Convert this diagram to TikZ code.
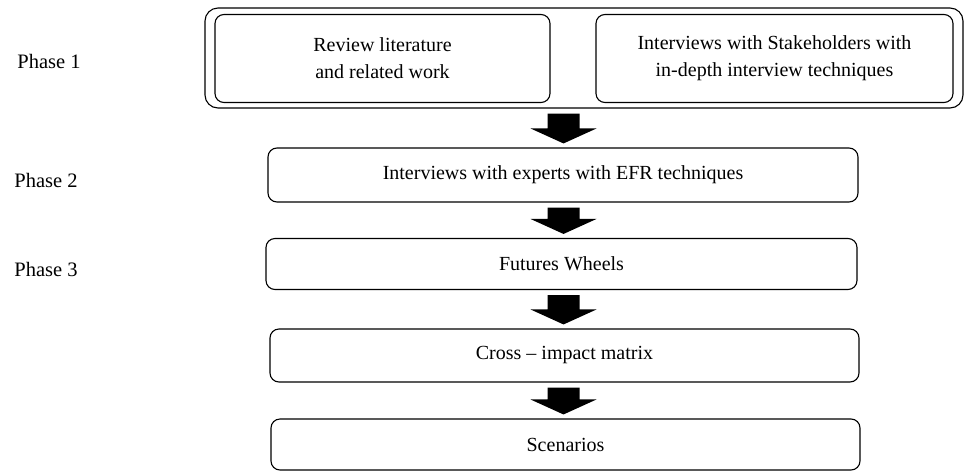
\documentclass[tikz,border=0pt]{standalone}
\usepackage{fontspec}
\setmainfont{Liberation Serif}
\usetikzlibrary{calc}
\tikzset{
  stagebox/.style={draw, line width=1.1pt, rounded corners=9pt, inner sep=0pt, font=\fontsize{20}{27}\selectfont, align=center},
  phaselabel/.style={font=\fontsize{20.5}{24}\selectfont, inner sep=0pt},
  blockfill/.style={fill=black}
}
\newcommand\blockarrow[2]{%
  \fill[blockfill] let \p1=($(#1.south -| ax)+(0,-5pt)$), \p2=($(#2.north -| ax)+(0,4pt)$) in
    (\x1-16pt,\y1) -- (\x1+16pt,\y1) -- (\x1+16pt,\y2+15pt) -- (\x1+33pt,\y2+15pt)
    -- (\x1,\y2) -- (\x1-33pt,\y2+15pt) -- (\x1-16pt,\y2+15pt) -- cycle;}
\begin{document}
\begin{tikzpicture}[x=1pt,y=-1pt]
\useasboundingbox (0,0) rectangle (964,472);
% phase 1 group
\node[stagebox, rounded corners=13pt, minimum width=758pt, minimum height=100pt] (outer) at (584,58) {};
\node[stagebox, minimum width=335pt, minimum height=88pt] (rev) at (382.5,58.5) {Review literature\\and related work};
\node[stagebox, minimum width=357pt, minimum height=88pt] (intv) at (774.5,58.5) {Interviews with Stakeholders with\\in-depth interview techniques};
\node[stagebox, minimum width=590pt, minimum height=54pt] (efr) at (563,175) {Interviews with experts with EFR techniques};
\node[stagebox, minimum width=591pt, minimum height=51pt] (fw) at (561.5,264) {Futures Wheels};
\node[stagebox, minimum width=589pt, minimum height=53pt] (cim) at (564.5,355.5) {Cross -- impact matrix};
\node[stagebox, minimum width=589pt, minimum height=51pt] (scen) at (565.5,444.5) {Scenarios};
% phase labels
\node[phaselabel] (p1) at (49,61) {Phase 1};
\node[phaselabel] (p2) at (46,180) {Phase 2};
\node[phaselabel] (p3) at (46,269) {Phase 3};
% arrows
\coordinate (ax) at (563.5,0);
\blockarrow{outer}{efr}
\blockarrow{efr}{fw}
\blockarrow{fw}{cim}
\blockarrow{cim}{scen}
\end{tikzpicture}
\end{document}
